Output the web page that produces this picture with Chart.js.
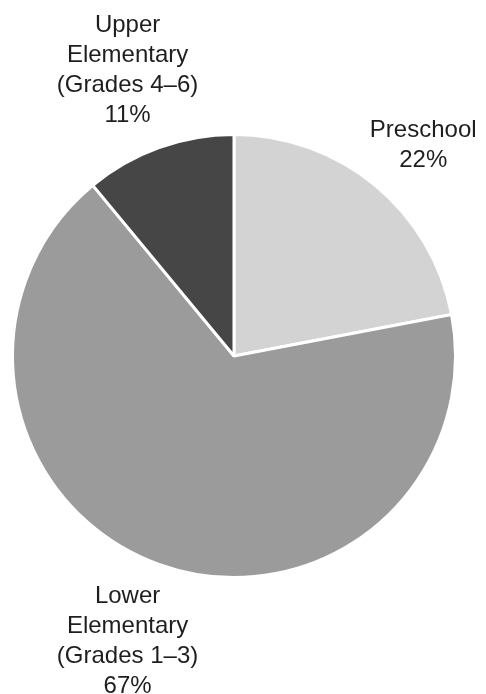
<!DOCTYPE html>
<html>
<head>
<meta charset="utf-8">
<style>
  html, body { margin: 0; padding: 0; background: #fff; }
  #wrap { width: 486px; height: 694px; }
</style>
<script src="https://cdn.jsdelivr.net/npm/chart.js@4/dist/chart.umd.min.js"></script>
</head>
<body>
<div id="wrap"><canvas id="pieChart" width="486" height="694"></canvas></div>
<script>
// Enrollment share by level
const categories = [
  ['Preschool'],
  ['Lower', 'Elementary', '(Grades 1–3)'],
  ['Upper', 'Elementary', '(Grades 4–6)']
];
const shares = [22, 67, 11];
const sliceColors = ['#d3d3d3', '#9b9b9b', '#464646'];

const FONT = '24px "Liberation Sans", Arial, sans-serif';
const LINE_H = 30;
const GAP = 22;

// Outside labels: the text block sits just beyond the rim along each slice's mid angle
const outsideLabels = {
  id: 'outsideLabels',
  afterDraw(chart) {
    const ctx = chart.ctx;
    const arcs = chart.getDatasetMeta(0).data;
    ctx.save();
    ctx.font = FONT;
    ctx.fillStyle = '#1e1e1e';
    ctx.textAlign = 'center';
    ctx.textBaseline = 'middle';
    arcs.forEach((arc, i) => {
      const lines = categories[i].concat([shares[i] + '%']);
      const mid = (arc.startAngle + arc.endAngle) / 2;
      const dx = Math.cos(mid), dy = Math.sin(mid);
      const w = Math.max(...lines.map(l => ctx.measureText(l).width));
      const h = lines.length * LINE_H;
      const cx = arc.x + dx * (arc.outerRadius + GAP) + dx * w / 2;
      const cy = arc.y + dy * (arc.outerRadius + GAP) + dy * h / 2;
      lines.forEach((line, j) => {
        ctx.fillText(line, cx, cy - h / 2 + LINE_H * (j + 0.5));
      });
    });
    ctx.restore();
  }
};

new Chart(document.getElementById('pieChart'), {
  type: 'pie',
  data: {
    labels: categories.map(c => c.join(' ')),
    datasets: [{
      data: shares,
      backgroundColor: sliceColors,
      borderColor: '#ffffff',
      borderWidth: 3
    }]
  },
  options: {
    responsive: false,
    animation: false,
    layout: { padding: { left: 11, right: 29, top: 133, bottom: 115 } },
    plugins: {
      legend: { display: false },
      tooltip: { enabled: false }
    }
  },
  plugins: [outsideLabels]
});
</script>
</body>
</html>
